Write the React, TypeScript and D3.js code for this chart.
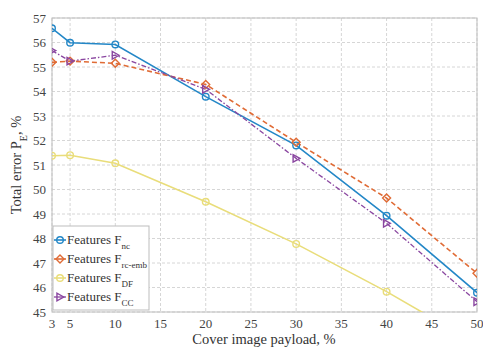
import React from "react";
import * as d3 from "d3";

const payload = [3, 5, 10, 20, 30, 40, 50];
const fNc = [56.58, 55.99, 55.92, 53.79, 51.8, 48.93, 45.79];
const fRcEmb = [55.19, 55.24, 55.15, 54.29, 51.93, 49.65, 46.58];
const fDF = [51.38, 51.4, 51.07, 49.5, 47.78, 45.83, 43.7];
const fCC = [55.67, 55.24, 55.48, 54.09, 51.27, 48.62, 45.42];
const xTicks = [3, 5, 10, 15, 20, 25, 30, 35, 40, 45, 50];
const yTicks = [45, 46, 47, 48, 49, 50, 51, 52, 53, 54, 55, 56, 57];
const seriesNames = ["nc", "rc-emb", "DF", "CC"];

const W = 483, H = 347;
const L = 52, R = 477, T = 18, B = 312;

export default function App() {
  const x = d3.scaleLinear().domain([3, 50]).range([L, R]);
  const y = d3.scaleLinear().domain([45, 57]).range([B, T]);
  const series = [
    { vals: fNc, color: "#2387c7", dash: "", marker: "circle", width: 1.6 },
    { vals: fRcEmb, color: "#e06b35", dash: "5,3", marker: "diamond", width: 1.6 },
    { vals: fDF, color: "#e9dd7a", dash: "", marker: "circle", width: 1.6 },
    { vals: fCC, color: "#8a46a0", dash: "5,2,1.5,2", marker: "tri", width: 1.3 },
  ];
  const line = d3.line<number>().x((_, i) => x(payload[i])).y((d) => y(d));
  const marker = (kind: string, cx: number, cy: number, color: string, key: string) => {
    if (kind === "circle") return <circle key={key} cx={cx} cy={cy} r={3.3} fill="none" stroke={color} strokeWidth={1.4} />;
    if (kind === "diamond") {
      const s = 4;
      return <path key={key} d={`M${cx},${cy - s}L${cx + s},${cy}L${cx},${cy + s}L${cx - s},${cy}Z`} fill="none" stroke={color} strokeWidth={1.4} />;
    }
    const s = 3.8;
    return <path key={key} d={`M${cx + s},${cy}L${cx - s * 0.8},${cy - s}L${cx - s * 0.8},${cy + s}Z`} fill="none" stroke={color} strokeWidth={1.4} />;
  };
  const font = "'Liberation Serif', 'Times New Roman', serif";
  return (
    <svg width={W} height={H} style={{ position: "absolute", left: 0, top: 0, background: "#fff" }} fontFamily={font}>
      <defs>
        <clipPath id="clip"><rect x={L} y={T} width={R - L} height={B - T} /></clipPath>
      </defs>
      <rect x={L} y={T} width={R - L} height={B - T} fill="#fff" />
      {xTicks.map((t) => (
        <line key={"gx" + t} x1={x(t)} x2={x(t)} y1={T} y2={B} stroke="#d6d6d6" strokeWidth={1} strokeDasharray="3,2" />
      ))}
      {yTicks.map((t) => (
        <line key={"gy" + t} x1={L} x2={R} y1={y(t)} y2={y(t)} stroke="#d6d6d6" strokeWidth={1} strokeDasharray="3,2" />
      ))}
      <rect x={L} y={T} width={R - L} height={B - T} fill="none" stroke="#bdbdbd" strokeWidth={1} />
      <g clipPath="url(#clip)">
        {series.map((s, i) => (
          <path key={"l" + i} d={line(s.vals) || ""} fill="none" stroke={s.color} strokeWidth={s.width} strokeDasharray={s.dash} />
        ))}
        {series.map((s, i) =>
          s.vals.map((v, j) => marker(s.marker, x(payload[j]), y(v), s.color, `m${i}-${j}`))
        )}
      </g>
      {xTicks.map((t) => (
        <text key={"xt" + t} x={x(t)} y={B + 15.5} textAnchor="middle" fontSize={13} fill="#444">{t}</text>
      ))}
      {yTicks.map((t) => (
        <text key={"yt" + t} x={L - 6} y={y(t) + 4.5} textAnchor="end" fontSize={13} fill="#444">{t}</text>
      ))}
      <text x={264} y={344} textAnchor="middle" fontSize={14.5} fill="#333">Cover image payload, %</text>
      <text transform={`translate(21,${(T + B) / 2}) rotate(-90)`} textAnchor="middle" fontSize={14.5} fill="#333">
        Total error P<tspan baselineShift="sub" fontSize={10}>E</tspan><tspan>, %</tspan>
      </text>
      <g>
        <rect x={53} y={226} width={96} height={84} fill="#fff" stroke="#bdbdbd" strokeWidth={1} />
        {series.map((s, i) => {
          const ly = 240 + i * 19;
          return (
            <g key={"lg" + i}>
              <line x1={54} x2={66} y1={ly} y2={ly} stroke={s.color} strokeWidth={s.width} />
              {marker(s.marker, 60, ly, s.color, "lm" + i)}
              <text x={67} y={ly + 4} fontSize={13} fill="#333">
                Features F<tspan baselineShift="sub" fontSize={9}>{seriesNames[i]}</tspan>
              </text>
            </g>
          );
        })}
      </g>
    </svg>
  );
}
